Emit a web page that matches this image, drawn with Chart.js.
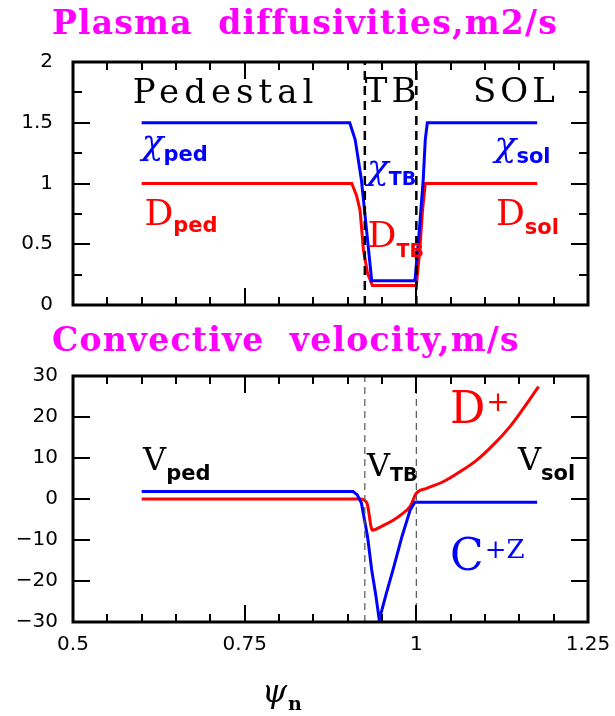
<!DOCTYPE html>
<html>
<head>
<meta charset="utf-8">
<script src="https://cdn.jsdelivr.net/npm/chart.js@4.4.1/dist/chart.umd.min.js"></script>
<style>
  body { margin: 0; background: #fff; }
  #wrap { position: relative; width: 615px; height: 716px; overflow: hidden; }
  #wrap canvas { position: absolute; left: 0; }
  .title {
    position: absolute; color: #ff00ff; white-space: pre; line-height: 34px;
    font-family: 'DejaVu Serif', serif; font-weight: bold; font-size: 33px; letter-spacing: 1.2px;
  }
  .xname { position: absolute; left: 262px; top: 672px; font-family: 'DejaVu Serif', serif; }
  .xname i { font-size: 32px; }
  .xname b { font-size: 19px; position: relative; top: 8px; left: 1px; }
</style>
</head>
<body>
<div id="wrap">
  <div class="title" style="left:52px; top:6px;">Plasma  diffusivities,m2/s</div>
  <div class="title" style="left:52px; top:323px;">Convective  velocity,m/s</div>
  <canvas id="diff-chart" width="615" height="320" style="top:0"></canvas>
  <canvas id="vel-chart" width="615" height="396" style="top:320px"></canvas>
  <div class="xname"><i>ψ</i><b>n</b></div>
</div>
<script>
/* profile data, psi_n on x */
var chiX = [0.6, 0.903, 0.911, 0.920, 0.928, 0.935, 0.998, 1.004, 1.010, 1.013, 1.016, 1.176];
var chiY = [1.5, 1.5, 1.36, 1.03, 0.59, 0.2, 0.2, 0.59, 1.03, 1.36, 1.5, 1.5];
var diffX = [0.6, 0.906, 0.913, 0.918, 0.923, 0.929, 0.936, 1.000, 1.005, 1.009, 1.013, 1.176];
var diffY = [1.0, 1.0, 0.9, 0.78, 0.45, 0.26, 0.16, 0.16, 0.45, 0.78, 1.0, 1.0];

var velCX = [0.6, 0.908, 0.914, 0.920, 0.929, 0.935, 0.941, 0.946, 0.956, 0.966, 0.979, 0.991, 0.998, 1.176];
var velCY = [1.8, 1.8, 1.0, -1.0, -9.2, -17.3, -23.5, -29.5, -23.2, -17.3, -9.2, -2.7, -0.8, -0.8];
var velDX = [0.6, 0.918, 0.928, 0.936, 0.950, 0.965, 0.978, 0.991, 1.000, 1.015, 1.039, 1.064, 1.088, 1.112, 1.136, 1.156, 1.178];
var velDY = [0, 0, -1.0, -7.6, -6.6, -5.3, -3.8, -1.8, 1.4, 2.6, 4.2, 6.7, 9.5, 13.2, 17.6, 22.1, 27.4];

var tbEdges = [0.925, 1.0];

var xTicks = [0.5, 0.75, 1, 1.25];
var diffTicks = [0, 0.5, 1, 1.5, 2];
var velTicks = [-30, -20, -10, 0, 10, 20, 30];

var BLUE = '#0000ff';
var RED = '#ff0000';

function toPoints(xs, ys){
    var pts = [];
    for(var i = 0; i < xs.length; i++){
        pts.push({x: xs[i], y: ys[i]});
    }
    return pts;
}

function isMajor(v, step){
    var r = v / step;
    return Math.abs(r - Math.round(r)) < 1e-6;
}

/* box frame with ticks pointing inward on all four sides */
var frameTicks = {
    id: 'frameTicks',
    afterDatasetsDraw: function(chart, args, opts){
        var ctx = chart.ctx, a = chart.chartArea;
        var xs = chart.scales.x, ys = chart.scales.y;
        ctx.save();
        ctx.strokeStyle = '#000';
        ctx.lineWidth = 2;
        var i, v, px, py, len, n;
        n = Math.round((xs.max - xs.min) / opts.xStep);
        for(i = 0; i <= n; i++){
            v = xs.min + i * opts.xStep;
            px = Math.round(xs.getPixelForValue(v));
            len = isMajor(v, opts.xMajor) ? 17 : 8;
            ctx.beginPath();
            ctx.moveTo(px, a.bottom); ctx.lineTo(px, a.bottom - len);
            ctx.moveTo(px, a.top); ctx.lineTo(px, a.top + len);
            ctx.stroke();
        }
        n = Math.round((ys.max - ys.min) / opts.yStep);
        for(i = 0; i <= n; i++){
            v = ys.min + i * opts.yStep;
            py = Math.round(ys.getPixelForValue(v));
            len = isMajor(v, opts.yMajor) ? 17 : 9;
            ctx.beginPath();
            ctx.moveTo(a.left, py); ctx.lineTo(a.left + len, py);
            ctx.moveTo(a.right, py); ctx.lineTo(a.right - len, py);
            ctx.stroke();
        }
        ctx.lineWidth = 3;
        ctx.strokeRect(a.left, a.top, a.right - a.left, a.bottom - a.top);
        ctx.restore();
    }
};

/* region names and symbols written inside the plot */
var notesPlugin = {
    id: 'notes',
    afterDatasetsDraw: function(chart, args, opts){
        var ctx = chart.ctx;
        ctx.save();
        ctx.textBaseline = 'alphabetic';
        ctx.textAlign = 'left';
        opts.items.forEach(function(n){
            var px = chart.scales.x.getPixelForValue(n.x);
            var py = chart.scales.y.getPixelForValue(n.y);
            ctx.fillStyle = n.color;
            ctx.font = n.font;
            ctx.letterSpacing = n.spacing || '0px';
            ctx.fillText(n.text, px, py);
            var w = ctx.measureText(n.text).width;
            ctx.letterSpacing = '0px';
            if(n.sub){
                ctx.font = n.subFont;
                ctx.fillText(n.sub, px + w + (n.gap || 0), py + n.dy);
            }
        });
        ctx.restore();
    }
};

var SERIF = "'DejaVu Serif', serif";
var SANS = "'DejaVu Sans', sans-serif";
var bigSerif = '34px ' + SERIF;
var symFont = '36px ' + SERIF;
var chiFont = 'italic 36px ' + SERIF;
var subFont = 'bold 21px ' + SANS;
var tbFont = 'bold 19px ' + SANS;

function tickText(v){
    return v < 0 ? '\u2212' + Math.abs(v) : String(v);
}

function xAxis(showLabels, height){
    return {
        type: 'linear',
        min: 0.5,
        max: 1.25,
        grid: {display: false, drawTicks: false},
        border: {display: false},
        afterBuildTicks: function(s){ s.ticks = xTicks.map(function(v){ return {value: v}; }); },
        afterFit: function(s){
            // end labels may hang into the outer margin
            s.height = height;
            s.paddingLeft = 0;
            s.paddingRight = 0;
        },
        ticks: {
            display: showLabels,
            color: '#000',
            padding: 11,
            maxRotation: 0,
            font: {family: SANS, size: 20},
            callback: tickText
        }
    };
}

function yAxis(min, max, ticks, pad){
    return {
        min: min,
        max: max,
        grid: {display: false, drawTicks: false},
        border: {display: false},
        afterBuildTicks: function(s){ s.ticks = ticks.map(function(v){ return {value: v}; }); },
        afterFit: function(s){
            s.width = 73;
            s.paddingTop = 0;
            s.paddingBottom = 0;
        },
        ticks: {
            color: '#000',
            padding: pad,
            font: {family: SANS, size: 20},
            callback: tickText
        }
    };
}

function edgeSets(ymin, ymax, color, width, dash){
    return tbEdges.map(function(x){
        return {
            data: [{x: x, y: ymin}, {x: x, y: ymax}],
            showLine: true, borderColor: color, borderWidth: width, borderDash: dash,
            pointRadius: 0
        };
    });
}

function profile(xs, ys, color, mode){
    return {
        data: toPoints(xs, ys),
        showLine: true, borderColor: color, borderWidth: 3,
        pointRadius: 0, cubicInterpolationMode: mode || 'default', tension: 0
    };
}

var diffChart = new Chart(document.getElementById('diff-chart'), {
    type: 'scatter',
    data: {
        datasets: edgeSets(0, 2, '#000', 2.5, [9, 6]).concat([
            profile(chiX, chiY, BLUE),
            profile(diffX, diffY, RED)
        ])
    },
    options: {
        responsive: false,
        animation: false,
        layout: {padding: {top: 62, right: 27, left: 0, bottom: 0}},
        scales: {
            x: xAxis(false, 15),
            y: yAxis(0, 2, diffTicks, 20)
        },
        plugins: {
            legend: {display: false},
            tooltip: {enabled: false},
            frameTicks: {xStep: 0.05, xMajor: 0.25, yStep: 0.25, yMajor: 0.5},
            notes: {items: [
                {text: 'Pedestal', x: 0.587, y: 1.66, color: '#000', font: bigSerif, spacing: '5px'},
                {text: 'TB', x: 0.925, y: 1.67, color: '#000', font: bigSerif, spacing: '4px'},
                {text: 'SOL', x: 1.0825, y: 1.67, color: '#000', font: bigSerif, spacing: '4px'},
                {text: 'χ', x: 0.6, y: 1.24, color: BLUE, font: chiFont, sub: 'ped', subFont: subFont, dy: 7},
                {text: 'D', x: 0.604, y: 0.66, color: RED, font: symFont, sub: 'ped', subFont: subFont, dy: 7},
                {text: 'χ', x: 0.928, y: 1.04, color: BLUE, font: chiFont, sub: 'TB', subFont: tbFont, dy: 6},
                {text: 'D', x: 0.929, y: 0.48, color: RED, font: symFont, sub: 'TB', subFont: tbFont, dy: 10},
                {text: 'χ', x: 1.114, y: 1.23, color: BLUE, font: chiFont, sub: 'sol', subFont: subFont, dy: 7},
                {text: 'D', x: 1.116, y: 0.66, color: RED, font: symFont, sub: 'sol', subFont: subFont, dy: 9}
            ]}
        }
    },
    plugins: [frameTicks, notesPlugin]
});

var velChart = new Chart(document.getElementById('vel-chart'), {
    type: 'scatter',
    data: {
        datasets: edgeSets(-30, 30, '#555', 1.2, [7, 5]).concat([
            profile(velCX, velCY, BLUE),
            profile(velDX, velDY, RED, 'monotone')
        ])
    },
    options: {
        responsive: false,
        animation: false,
        layout: {padding: {top: 56, right: 27, left: 0, bottom: 0}},
        scales: {
            x: xAxis(true, 94),
            y: yAxis(-30, 30, velTicks, 15)
        },
        plugins: {
            legend: {display: false},
            tooltip: {enabled: false},
            frameTicks: {xStep: 0.05, xMajor: 0.25, yStep: 10, yMajor: 10},
            notes: {items: [
                {text: 'V', x: 0.602, y: 7.1, color: '#000', font: '32px ' + SERIF, sub: 'ped', subFont: subFont, dy: 10},
                {text: 'V', x: 0.928, y: 5.6, color: '#000', font: '32px ' + SERIF, sub: 'TB', subFont: tbFont, dy: 5},
                {text: 'V', x: 1.148, y: 7.1, color: '#000', font: '32px ' + SERIF, sub: 'sol', subFont: subFont, dy: 10},
                {text: 'D', x: 1.049, y: 18.5, color: RED, font: '44px ' + SERIF, sub: '+', subFont: '28px ' + SERIF, dy: -12, gap: 1},
                {text: 'C', x: 1.049, y: -17.3, color: BLUE, font: '44px ' + SERIF, sub: '+Z', subFont: '26px ' + SERIF, dy: -12, gap: 1}
            ]}
        }
    },
    plugins: [frameTicks, notesPlugin]
});
</script>
</body>
</html>
